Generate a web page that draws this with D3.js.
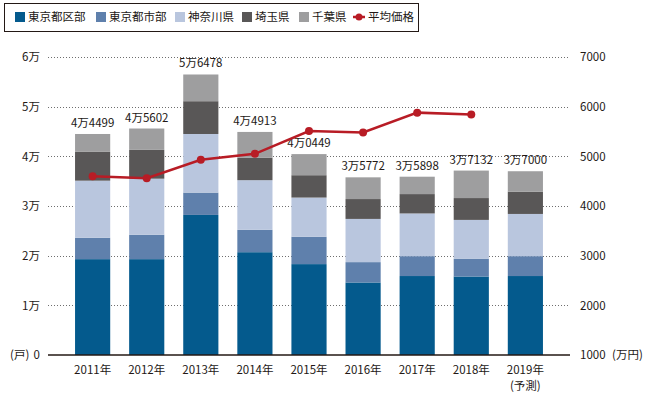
<!DOCTYPE html>
<html>
<head>
<meta charset="utf-8">
<script src="https://cdn.jsdelivr.net/npm/d3@7"></script>
<style>
  body { margin: 0; background: #fff; }
  text { font-family: "Noto Sans CJK JP", "Noto Sans", sans-serif; fill: #231815; }
</style>
</head>
<body>
<svg width="650" height="393"></svg>
<script>
// Data
const years = ["2011年", "2012年", "2013年", "2014年", "2015年", "2016年", "2017年", "2018年", "2019年"];
const seriesNames = ["東京都区部", "東京都市部", "神奈川県", "埼玉県", "千葉県"];
const kubu     = [19300, 19300, 28200, 20700, 18300, 14600, 15900, 15800, 15900];
const shibu    = [4300, 4900, 4500, 4500, 5500, 4100, 4000, 3600, 4000];
const kanagawa = [11500, 11300, 11800, 10000, 7900, 8700, 8600, 7800, 8500];
const saitama  = [5800, 5800, 6600, 4500, 4500, 4000, 3900, 4400, 4500];
const chiba    = [3599, 4302, 5378, 5213, 4249, 4372, 3498, 5532, 4100];
const totalLabels = ["4万4499", "4万5602", "5万6478", "4万4913", "4万0449", "3万5772", "3万5898", "3万7132", "3万7000"];
const avgPrice = [4600, 4560, 4930, 5050, 5510, 5480, 5880, 5840];
const leftTicks = [0, 10000, 20000, 30000, 40000, 50000, 60000];
const leftTickLabels = ["0", "1万", "2万", "3万", "4万", "5万", "6万"];
const rightTicks = [1000, 2000, 3000, 4000, 5000, 6000, 7000];

const colors = ["#045a8d", "#5f80ac", "#b9c6de", "#595757", "#9e9e9f"];
const lineColor = "#b81c25";

const svg = d3.select("svg");

const x = d3.scaleBand().domain(years).range([48, 570]).paddingInner(0.35).paddingOuter(0.5);
const y = d3.scaleLinear().domain([0, 60000]).range([355, 57]);
const y2 = d3.scaleLinear().domain([1000, 7000]).range([355, 57]);

// stacked table
const table = years.map((yr, i) => ({
    year: yr,
    "東京都区部": kubu[i],
    "東京都市部": shibu[i],
    "神奈川県": kanagawa[i],
    "埼玉県": saitama[i],
    "千葉県": chiba[i]
}));
const stacked = d3.stack().keys(seriesNames)(table);

// grid lines
svg.append("g")
    .selectAll("line")
    .data(leftTicks.slice(1))
    .enter()
    .append("line")
    .attr("x1", 48)
    .attr("x2", 570)
    .attr("y1", (d) => Math.round(y(d)) + 0.5)
    .attr("y2", (d) => Math.round(y(d)) + 0.5)
    .attr("stroke", "#6e6e6e")
    .attr("stroke-width", 1)
    .attr("stroke-dasharray", "1,2");

// bars
svg.append("g")
    .selectAll("g")
    .data(stacked)
    .enter()
    .append("g")
    .attr("fill", (d, i) => colors[i])
    .selectAll("rect")
    .data((d) => d)
    .enter()
    .append("rect")
    .attr("x", (d) => x(d.data.year))
    .attr("width", x.bandwidth())
    .attr("y", (d) => y(d[1]))
    .attr("height", (d) => y(d[0]) - y(d[1]));

// total labels
svg.append("g")
    .selectAll("text")
    .data(totalLabels)
    .enter()
    .append("text")
    .attr("x", (d, i) => x(years[i]) + x.bandwidth() / 2)
    .attr("y", (d, i) => y(stacked[4][i][1]) - 7)
    .attr("text-anchor", "middle")
    .attr("font-size", 11.5)
    .text((d) => d);

// baseline
svg.append("line")
    .attr("x1", 48).attr("x2", 570)
    .attr("y1", 355).attr("y2", 355)
    .attr("stroke", "#231815")
    .attr("stroke-width", 1.5);

// average price line
const line = d3.line()
    .x((d, i) => x(years[i]) + x.bandwidth() / 2)
    .y((d) => y2(d));
svg.append("path")
    .datum(avgPrice)
    .attr("d", line)
    .attr("fill", "none")
    .attr("stroke", lineColor)
    .attr("stroke-width", 2.5);
svg.append("g")
    .selectAll("circle")
    .data(avgPrice)
    .enter()
    .append("circle")
    .attr("cx", (d, i) => x(years[i]) + x.bandwidth() / 2)
    .attr("cy", (d) => y2(d))
    .attr("r", 4)
    .attr("fill", lineColor);

// left axis
const leftAxis = d3.axisLeft(y)
    .tickValues(leftTicks)
    .tickFormat((d, i) => leftTickLabels[i])
    .tickSize(0)
    .tickPadding(0);
const gl = svg.append("g").attr("transform", "translate(40,0)").call(leftAxis);
gl.select(".domain").remove();
gl.selectAll("text").attr("font-size", 11.5).attr("font-family", null);
svg.append("text")
    .attr("x", 10).attr("y", y(0)).attr("dy", "0.32em")
    .attr("font-size", 11.5)
    .text("(戸)");

// right axis
const rightAxis = d3.axisRight(y2)
    .tickValues(rightTicks)
    .tickFormat(d3.format("d"))
    .tickSize(0)
    .tickPadding(0);
const gr = svg.append("g").attr("transform", "translate(580,0)").call(rightAxis);
gr.select(".domain").remove();
gr.selectAll("text").attr("font-size", 11.5).attr("font-family", null);
svg.append("text")
    .attr("x", 612).attr("y", y2(1000)).attr("dy", "0.32em")
    .attr("font-size", 11.5)
    .text("(万円)");

// x axis
const xAxis = d3.axisBottom(x).tickSize(0).tickPadding(11);
const gx = svg.append("g").attr("transform", "translate(0,355)").call(xAxis);
gx.select(".domain").remove();
gx.selectAll("text").attr("font-size", 11.5).attr("font-family", null);
svg.append("text")
    .attr("x", x("2019年") + x.bandwidth() / 2)
    .attr("y", 390)
    .attr("text-anchor", "middle")
    .attr("font-size", 11.5)
    .text("(予測)");

// legend
svg.append("rect")
    .attr("x", 4.5).attr("y", 3.5)
    .attr("width", 414).attr("height", 28)
    .attr("fill", "#fff")
    .attr("stroke", "#231815")
    .attr("stroke-width", 1);
const legendX = [15, 96, 175, 242, 299];
const lg = svg.append("g")
    .selectAll("g")
    .data(seriesNames)
    .enter()
    .append("g")
    .attr("transform", (d, i) => "translate(" + legendX[i] + ",12)");
lg.append("rect")
    .attr("width", 10).attr("height", 10)
    .attr("fill", (d, i) => colors[i]);
lg.append("text")
    .attr("x", 13).attr("y", 5).attr("dy", "0.35em")
    .attr("font-size", 11.5)
    .text((d) => d);
const ll = svg.append("g").attr("transform", "translate(353,17)");
ll.append("line").attr("x1", 0).attr("x2", 12).attr("stroke", lineColor).attr("stroke-width", 2.5);
ll.append("circle").attr("cx", 6).attr("r", 3.5).attr("fill", lineColor);
ll.append("text")
    .attr("x", 15).attr("dy", "0.35em")
    .attr("font-size", 11.5)
    .text("平均価格");
</script>
</body>
</html>
